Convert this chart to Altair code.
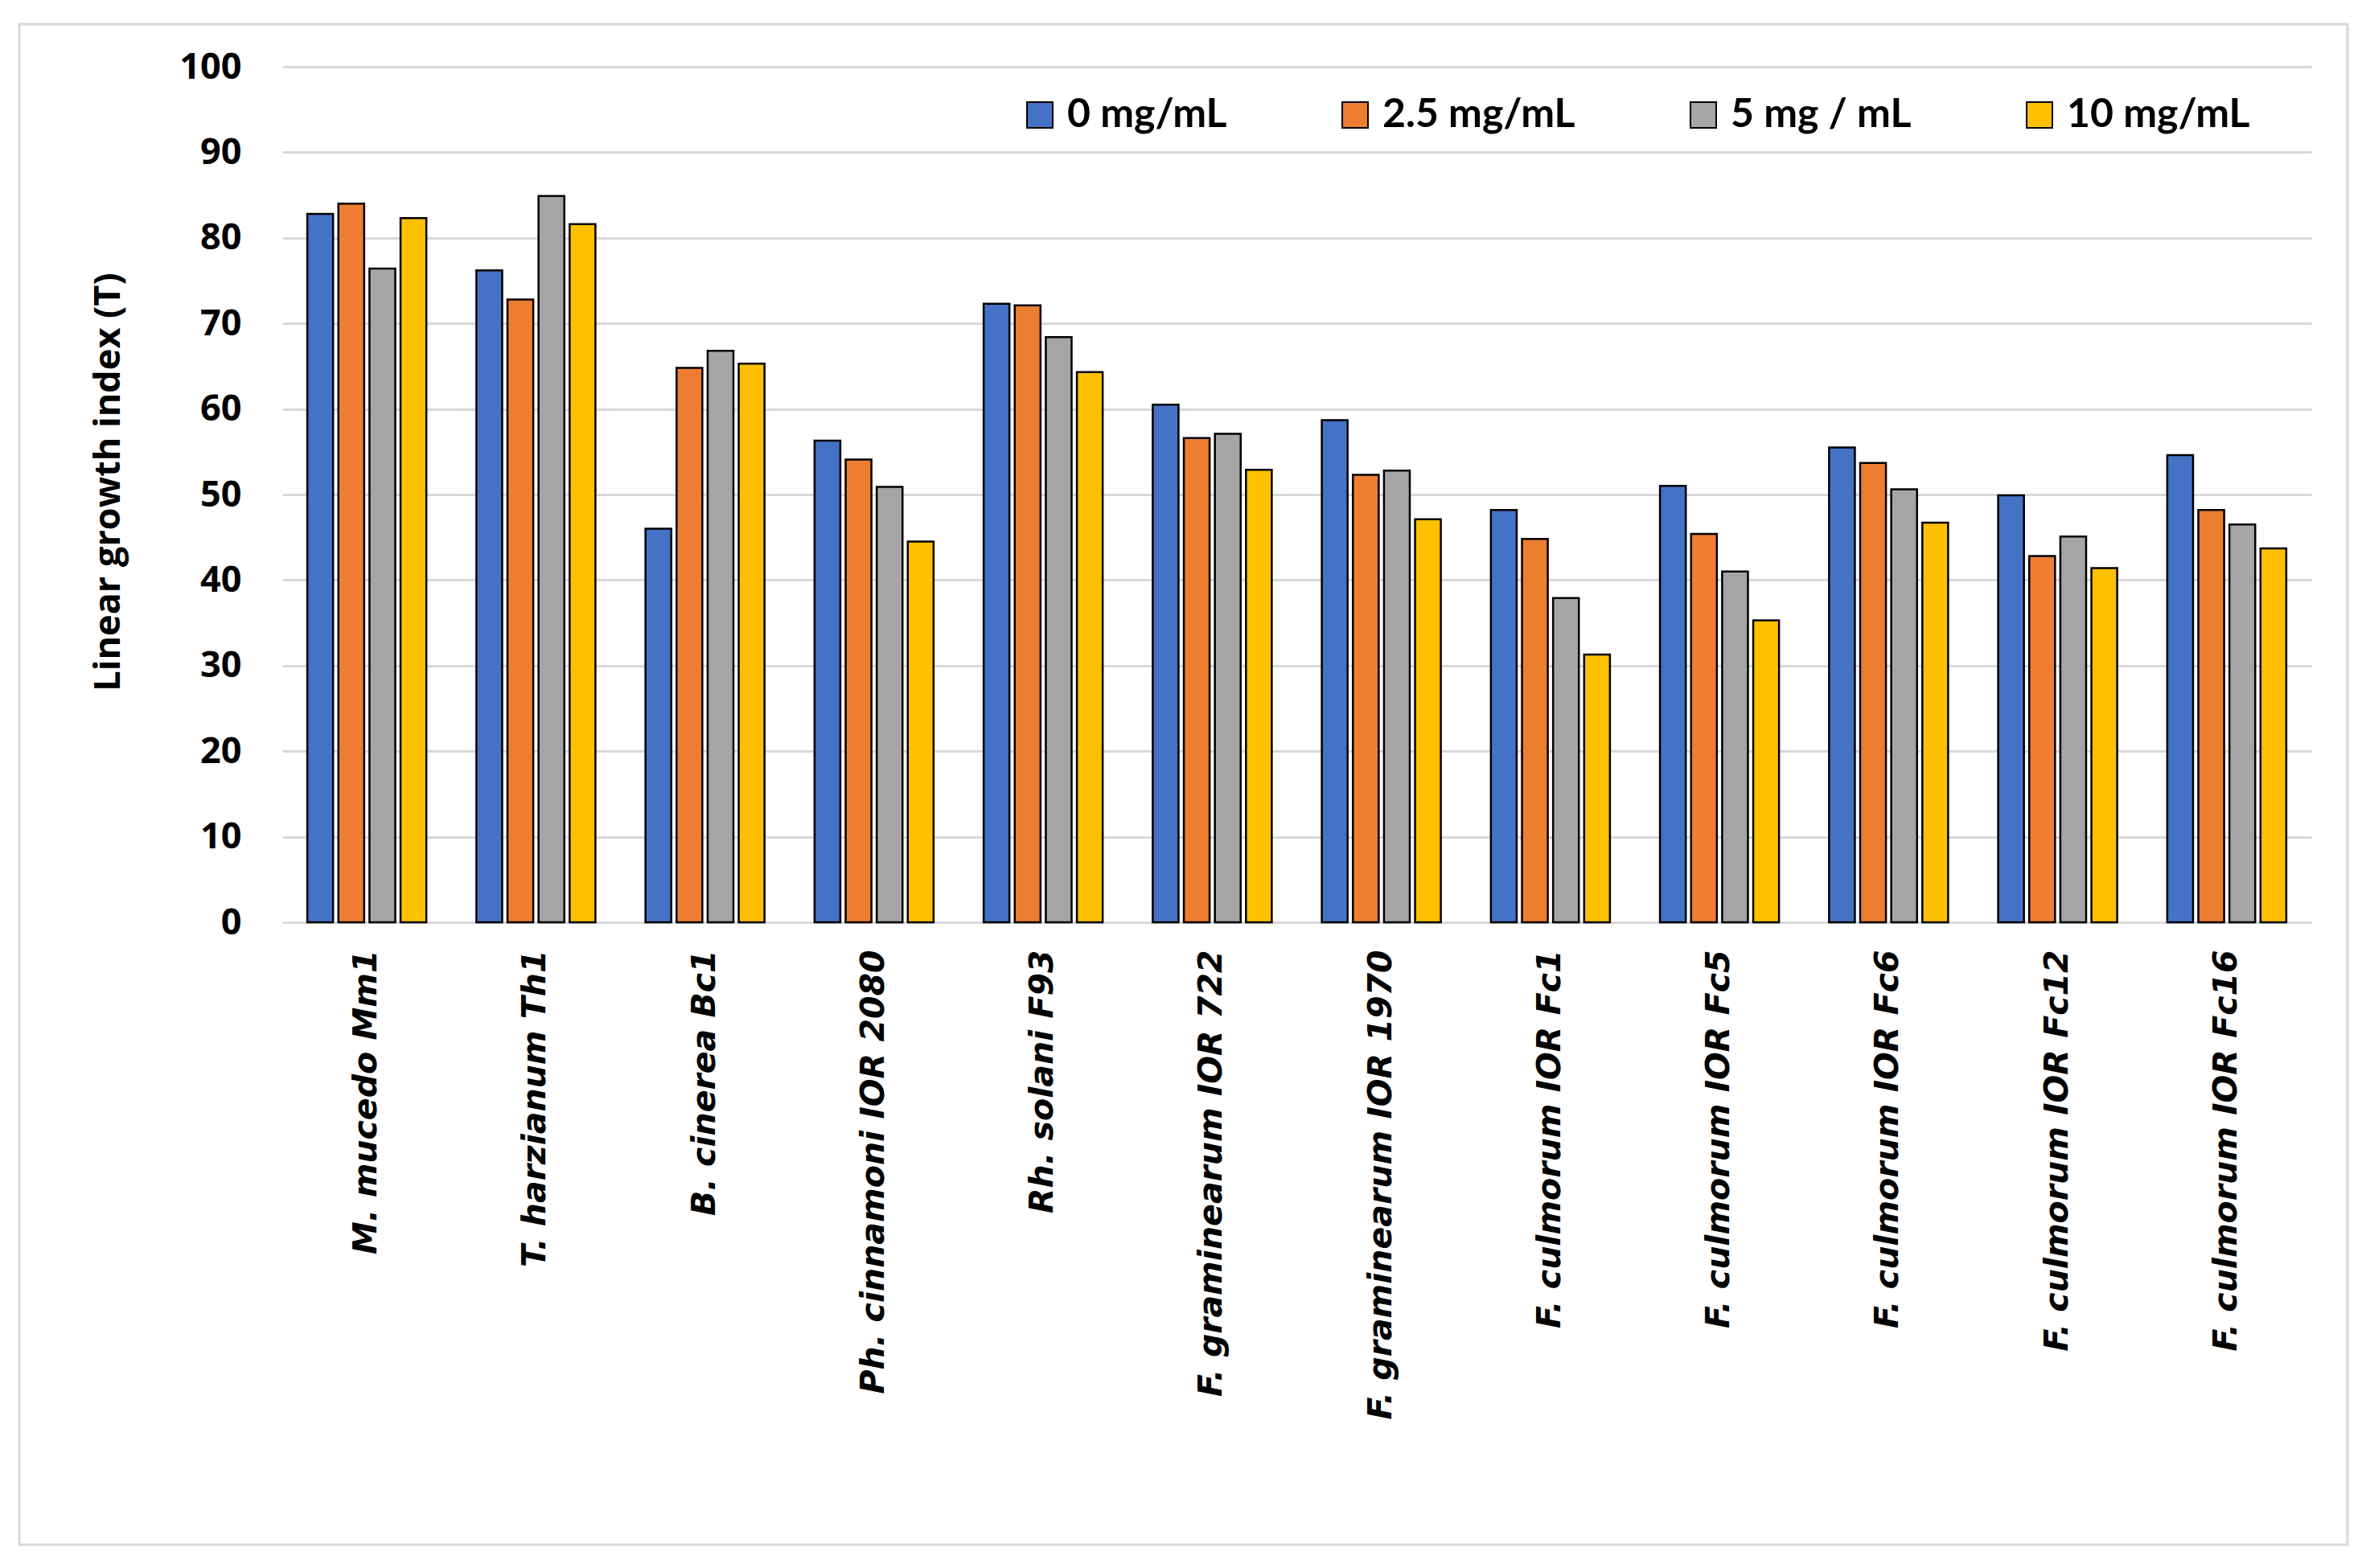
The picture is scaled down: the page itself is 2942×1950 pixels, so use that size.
import altair as alt
import pandas as pd

categories = [
    "M. mucedo Mm1", "T. harzianum Th1", "B. cinerea Bc1", "Ph. cinnamoni IOR 2080",
    "Rh. solani F93", "F. graminearum IOR 722", "F. graminearum IOR 1970",
    "F. culmorum IOR Fc1", "F. culmorum IOR Fc5", "F. culmorum IOR Fc6",
    "F. culmorum IOR Fc12", "F. culmorum IOR Fc16",
]
concentrations = ["0 mg/mL", "2.5 mg/mL", "5 mg / mL", "10 mg/mL"]
colors = ["#4472C4", "#ED7D31", "#A5A5A5", "#FFC000"]

vals_0 = [82.8, 76.2, 46.0, 56.3, 72.3, 60.5, 58.7, 48.2, 51.0, 55.5, 49.9, 54.6]
vals_25 = [84.0, 72.8, 64.8, 54.1, 72.1, 56.6, 52.3, 44.8, 45.4, 53.7, 42.8, 48.2]
vals_5 = [76.4, 84.9, 66.8, 50.9, 68.4, 57.1, 52.8, 37.9, 41.0, 50.6, 45.1, 46.5]
vals_10 = [82.3, 81.6, 65.3, 44.5, 64.3, 52.9, 47.1, 31.3, 35.3, 46.7, 41.4, 43.7]
y_ticks = [0, 10, 20, 30, 40, 50, 60, 70, 80, 90, 100]

series = [vals_0, vals_25, vals_5, vals_10]
rows = []
for conc, vals in zip(concentrations, series):
    for cat, v in zip(categories, vals):
        rows.append({"category": cat, "conc": conc, "value": v})
df = pd.DataFrame(rows)

W, H = 2523, 1064
PL, PT = 351, 83

bars = alt.Chart(df).mark_bar(stroke="black", strokeWidth=2.5).encode(
    x=alt.X(
        "category:N",
        sort=categories,
        scale=alt.Scale(paddingInner=0.296, paddingOuter=0.148),
        axis=alt.Axis(
            title=None,
            labelAngle=270,
            labelAlign="right",
            labelBaseline="middle",
            labelFont="DejaVu Sans",
            labelFontSize=41,
            labelFontStyle="italic",
            labelFontWeight="bold",
            labelColor="black",
            labelPadding=34,
            labelLimit=0,
            labelOverlap=False,
            ticks=False,
            domainColor="#D9D9D9",
            domainWidth=3,
            grid=False,
        ),
    ),
    xOffset=alt.XOffset(
        "conc:N", sort=concentrations,
        scale=alt.Scale(paddingInner=0.17, paddingOuter=0),
    ),
    y=alt.Y(
        "value:Q",
        scale=alt.Scale(domain=[0, 100], nice=False, zero=True),
        axis=alt.Axis(
            values=y_ticks,
            title="Linear growth  index (T)",
            titleFont="Open Sans",
            titleFontSize=45,
            titleFontWeight="bold",
            titleColor="black",
            titleAngle=270,
            titleAlign="center",
            titleBaseline="middle",
            titleX=134 - PL,
            titleY=599 - PT,
            labelFont="Open Sans",
            labelFontSize=45,
            labelFontWeight="bold",
            labelColor="black",
            labelPadding=51,
            ticks=False,
            domain=False,
            grid=True,
            gridColor="#D9D9D9",
            gridWidth=3,
        ),
    ),
    color=alt.Color(
        "conc:N",
        sort=concentrations,
        scale=alt.Scale(domain=concentrations, range=colors),
        legend=alt.Legend(
            title=None,
            orient="none",
            legendX=917,
            legendY=35,
            direction="horizontal",
            columns=4,
            columnPadding=134,
            symbolType="square",
            symbolSize=1024,
            symbolStrokeColor="black",
            symbolStrokeWidth=2,
            symbolOpacity=1,
            labelFont="Lato",
            labelFontSize=50,
            labelFontWeight="bold",
            labelColor="black",
            labelOffset=9,
            labelLimit=0,
            padding=0,
        ),
    ),
)

frame = alt.Chart(pd.DataFrame({"a": [0]})).mark_rect(
    fillOpacity=0, stroke="#D9D9D9", strokeWidth=3
).encode(
    x=alt.value(24 - PL), x2=alt.value(2919 - PL),
    y=alt.value(30 - PT), y2=alt.value(1921 - PT),
)

chart = alt.layer(frame, bars).properties(
    width=W,
    height=H,
    autosize=alt.AutoSizeParams(type="none"),
    padding={"left": PL, "top": PT, "right": 2942 - PL - W, "bottom": 1950 - PT - H},
    background="white",
).configure_view(stroke=None)

chart.save("out.html", embed_options={"renderer": "svg", "actions": False})
